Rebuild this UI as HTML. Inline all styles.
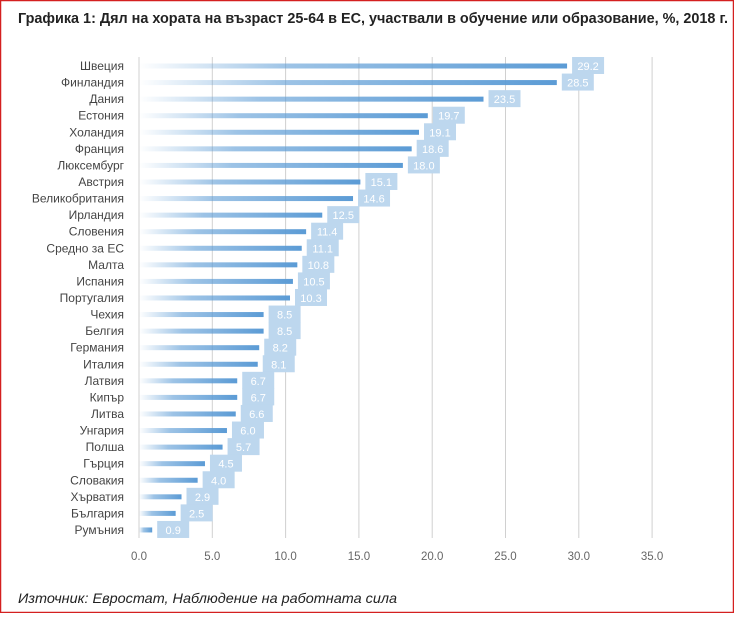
<!DOCTYPE html>
<html><head><meta charset="utf-8"><style>
html,body{margin:0;padding:0;background:#fff;}
body{width:734px;height:613px;overflow:hidden;}
</style></head><body>
<svg width="734" height="613" xmlns="http://www.w3.org/2000/svg" font-family="Liberation Sans, DejaVu Sans, sans-serif">
<defs><linearGradient id="g" x1="0" x2="1" y1="0" y2="0"><stop offset="0" stop-color="#5b9bd5" stop-opacity="0"/><stop offset="0.35" stop-color="#5b9bd5" stop-opacity="0.6"/><stop offset="1" stop-color="#5b9bd5"/></linearGradient></defs>
<rect x="0.5" y="0.5" width="733" height="612" fill="#fff" stroke="#d42020" stroke-width="1.5"/>
<text x="18" y="23" font-size="14.4" font-weight="bold" fill="#222" textLength="710" lengthAdjust="spacingAndGlyphs">Графика 1: Дял на хората на възраст 25-64 в ЕС, участвали в обучение или образование, %, 2018 г.</text>
<g id="grid" stroke="#d0d0d0" stroke-width="1"></g>
<g id="bars"></g>
<text x="18" y="603" font-size="14" font-style="italic" fill="#222" textLength="379" lengthAdjust="spacingAndGlyphs">Източник: Евростат, Наблюдение на работната сила</text>
</svg>
<script>
const d=[["Швеция",29.2],["Финландия",28.5],["Дания",23.5],["Естония",19.7],["Холандия",19.1],["Франция",18.6],["Люксембург",18.0],["Австрия",15.1],["Великобритания",14.6],["Ирландия",12.5],["Словения",11.4],["Средно за ЕС",11.1],["Малта",10.8],["Испания",10.5],["Португалия",10.3],["Чехия",8.5],["Белгия",8.5],["Германия",8.2],["Италия",8.1],["Латвия",6.7],["Кипър",6.7],["Литва",6.6],["Унгария",6.0],["Полша",5.7],["Гърция",4.5],["Словакия",4.0],["Хърватия",2.9],["България",2.5],["Румъния",0.9]];
const ns="http://www.w3.org/2000/svg",x0=139,sc=14.66;
function el(t,a,p,txt){const e=document.createElementNS(ns,t);for(const k in a)e.setAttribute(k,a[k]);if(txt!=null)e.textContent=txt;p.appendChild(e);return e;}
const G=document.getElementById('grid'),B=document.getElementById('bars'),S=document.querySelector('svg');
for(let i=0;i<=7;i++){const x=x0+i*5*sc;el('line',{x1:x,x2:x,y1:57,y2:538},G);el('text',{x:x,y:560,'font-size':11.5,fill:'#666','text-anchor':'middle'},S,(i*5).toFixed(1));}
d.forEach((r,i)=>{const y=66+i*16.57,w=r[1]*sc;
el('text',{x:124,y:y+4,'font-size':12,fill:'#444','text-anchor':'end'},B,r[0]);
el('rect',{x:x0,y:y-2.5,width:w,height:5,fill:'url(#g)'},B);
el('rect',{x:x0+w+5,y:y-9,width:32,height:17,fill:'#bdd7ee'},B);
el('text',{x:x0+w+21,y:y+4,'font-size':11,fill:'#fff','text-anchor':'middle'},B,r[1].toFixed(1));});
</script>
</body></html>
